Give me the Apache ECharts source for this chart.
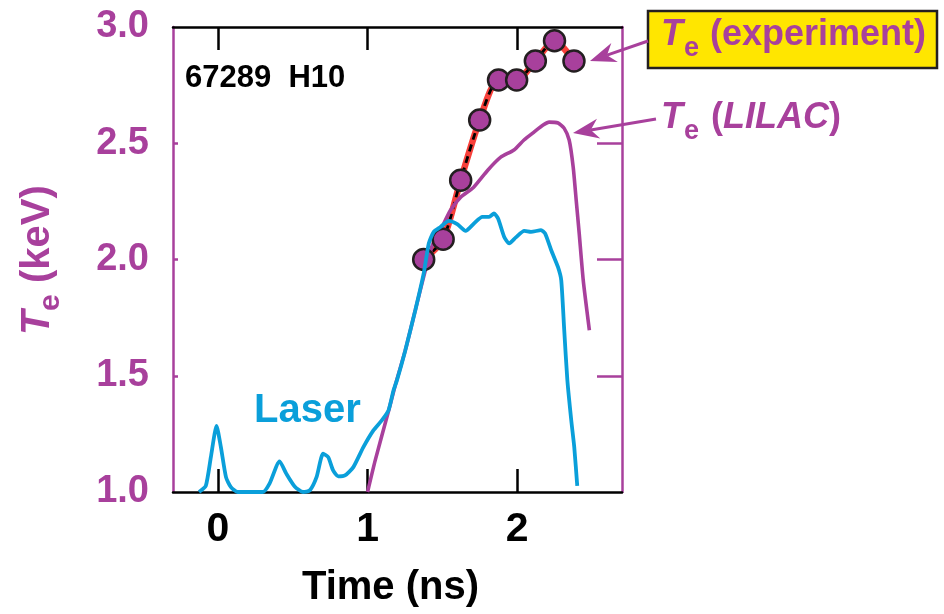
<!DOCTYPE html>
<html>
<head>
<meta charset="utf-8">
<script src="https://cdn.jsdelivr.net/npm/echarts@6/dist/echarts.min.js"></script>
<style>
html,body{margin:0;padding:0;background:#fff;}
#chart{width:944px;height:614px;}
</style>
</head>
<body>
<div id="chart"></div>
<script>
// ---- data ----
var xTicks = [0, 1, 2];
var yInnerTicks = [1.5, 2.0, 2.5];

var laserTime = [-0.126,-0.081,-0.047,-0.009,0.02,0.054,0.087,0.132,0.3,0.345,0.412,0.457,0.513,0.569,0.614,0.659,0.703,0.737,0.77,0.804,0.849,0.905,0.972,1.039,1.095,1.14,1.173,1.196,1.252,1.319,1.375,1.409,1.442,1.487,1.543,1.599,1.655,1.711,1.767,1.812,1.845,1.872,1.913,1.946,1.991,2.047,2.092,2.159,2.186,2.227,2.272,2.294,2.314,2.335,2.361,2.381,2.401];
var laserTe = [1.0,1.026,1.15,1.284,1.193,1.064,1.021,1.0,1.0,1.036,1.132,1.079,1.024,1.0,1.007,1.064,1.165,1.15,1.093,1.067,1.071,1.107,1.193,1.265,1.308,1.351,1.437,1.48,1.609,1.782,1.94,2.069,2.119,2.14,2.166,2.152,2.123,2.155,2.183,2.183,2.198,2.176,2.097,2.069,2.095,2.123,2.119,2.126,2.112,2.04,1.968,1.911,1.696,1.48,1.308,1.193,1.026];

var lilacTime = [1.0,1.051,1.138,1.185,1.252,1.319,1.386,1.433,1.487,1.554,1.622,1.709,1.803,1.89,1.978,2.045,2.112,2.173,2.213,2.273,2.313,2.347,2.374,2.394,2.414,2.441,2.482];
var lilacTe = [1.0,1.136,1.343,1.459,1.609,1.782,1.954,2.062,2.126,2.212,2.268,2.311,2.384,2.44,2.471,2.514,2.548,2.578,2.591,2.587,2.565,2.514,2.397,2.255,2.113,1.911,1.696];

var expTime = [1.375,1.505,1.622,1.749,1.875,1.996,2.121,2.249,2.379];
var expTe = [2.0,2.087,2.341,2.6,2.772,2.772,2.854,2.941,2.854];

// ---- styles ----
var PURPLE = '#A8409C';
var CYAN = '#0A9FDA';
var RED = '#F8403A';
var DARK = '#231F20';
var FONT = '"Liberation Sans", Arial, Helvetica, sans-serif';

function zip(a, b) { return a.map(function (v, i) { return [v, b[i]]; }); }

function arrow(x1, y1, x2, y2) {
  var dx = x2 - x1, dy = y2 - y1, L = Math.sqrt(dx * dx + dy * dy);
  var ux = dx / L, uy = dy / L, px = -uy, py = ux;
  var hl = 26, hw = 10, notch = 18;
  var bx = x2 - ux * hl, by = y2 - uy * hl;
  var nx = x2 - ux * notch, ny = y2 - uy * notch;
  return [
    { type: 'line', shape: { x1: x1, y1: y1, x2: nx, y2: ny }, style: { stroke: PURPLE, lineWidth: 3 }, z: 100 },
    { type: 'polygon', shape: { points: [[x2, y2], [bx + px * hw, by + py * hw], [nx, ny], [bx - px * hw, by - py * hw]] }, style: { fill: PURPLE }, z: 100 }
  ];
}

var chart = echarts.init(document.getElementById('chart'), null, { renderer: 'canvas' });

var graphics = [
  { type: 'text', x: 185, y: 78, z: 100, style: { text: '67289  H10', font: 'bold 31px ' + FONT, fill: '#000', verticalAlign: 'middle', align: 'left' } },
  { type: 'text', x: 254, y: 411, z: 100, style: { text: 'Laser', font: 'bold 40px ' + FONT, fill: CYAN, verticalAlign: 'middle', align: 'left' } },
  { type: 'rect', shape: { x: 648, y: 11, width: 289, height: 57 }, style: { fill: '#FFE600', stroke: DARK, lineWidth: 2.5 }, z: 90 },
  { type: 'text', x: 661, y: 35, z: 100, style: { text: 'T', font: 'italic bold 36px ' + FONT, fill: PURPLE, verticalAlign: 'middle' } },
  { type: 'text', x: 684, y: 49, z: 100, style: { text: 'e', font: 'bold 27px ' + FONT, fill: PURPLE, verticalAlign: 'middle' } },
  { type: 'text', x: 710, y: 35, z: 100, style: { text: '(experiment)', font: 'bold 36px ' + FONT, fill: PURPLE, verticalAlign: 'middle' } },
  { type: 'text', x: 661, y: 118, z: 100, style: { text: 'T', font: 'italic bold 36px ' + FONT, fill: PURPLE, verticalAlign: 'middle' } },
  { type: 'text', x: 684, y: 132, z: 100, style: { text: 'e', font: 'bold 27px ' + FONT, fill: PURPLE, verticalAlign: 'middle' } },
  { type: 'text', x: 711, y: 118, z: 100, style: {
      text: '({i|LILAC})', font: 'bold 36px ' + FONT, fill: PURPLE, verticalAlign: 'middle',
      rich: { i: { font: 'italic bold 36px ' + FONT, fill: PURPLE } } } },
  { type: 'group', x: 38, y: 335, rotation: Math.PI / 2, z: 100, children: [
      { type: 'text', x: 0, y: 0, style: { text: 'T', font: 'italic bold 40px ' + FONT, fill: PURPLE, verticalAlign: 'middle' } },
      { type: 'text', x: 24, y: 13, style: { text: 'e', font: 'bold 30px ' + FONT, fill: PURPLE, verticalAlign: 'middle' } },
      { type: 'text', x: 52, y: 0, style: { text: '(keV)', font: 'bold 40px ' + FONT, fill: PURPLE, verticalAlign: 'middle' } }
  ] }
].concat(arrow(648, 41, 590, 61)).concat(arrow(656, 119, 573, 133));

var option = {
  backgroundColor: '#fff',
  animation: false,
  grid: { left: 173, right: 322, top: 27, bottom: 122, containLabel: false },
  xAxis: [
    {
      type: 'value', position: 'bottom', min: -0.3, max: 2.7,
      axisLine: { show: true, onZero: false, lineStyle: { color: '#000', width: 2.5 } },
      axisTick: { show: true, inside: true, length: 23, customValues: xTicks, lineStyle: { color: '#000', width: 2.5 } },
      axisLabel: { show: true, customValues: xTicks, margin: 17, color: '#000', fontFamily: FONT, fontWeight: 'bold', fontSize: 41 },
      splitLine: { show: false },
      name: 'Time (ns)', nameLocation: 'middle', nameGap: 76,
      nameTextStyle: { color: '#000', fontFamily: FONT, fontWeight: 'bold', fontSize: 40, padding: [0, 14, 0, 0] }
    },
    {
      type: 'value', position: 'top', min: -0.3, max: 2.7,
      axisLine: { show: true, onZero: false, lineStyle: { color: '#000', width: 2.5 } },
      axisTick: { show: true, inside: true, length: 23, customValues: xTicks, lineStyle: { color: '#000', width: 2.5 } },
      axisLabel: { show: false },
      splitLine: { show: false }
    }
  ],
  yAxis: [
    {
      type: 'value', position: 'left', min: 1, max: 3, interval: 0.5,
      axisLine: { show: true, onZero: false, lineStyle: { color: PURPLE, width: 2.5 } },
      axisTick: { show: true, inside: true, length: 5, customValues: yInnerTicks, lineStyle: { color: PURPLE, width: 2.5 } },
      axisLabel: { show: true, margin: 24, color: PURPLE, fontFamily: FONT, fontWeight: 'bold', fontSize: 38,
        formatter: function (v) { return v.toFixed(1); } },
      splitLine: { show: false }
    },
    {
      type: 'value', position: 'right', min: 1, max: 3, interval: 0.5,
      axisLine: { show: true, onZero: false, lineStyle: { color: PURPLE, width: 2.5 } },
      axisTick: { show: true, inside: true, length: 25, customValues: yInnerTicks, lineStyle: { color: PURPLE, width: 2.5 } },
      axisLabel: { show: false },
      splitLine: { show: false }
    }
  ],
  series: [
    {
      name: 'Te experiment fit', type: 'line', xAxisIndex: 0, yAxisIndex: 0,
      data: zip(expTime, expTe), smooth: 0.25, showSymbol: false, silent: true,
      lineStyle: { color: RED, width: 6.5 }, z: 2
    },
    {
      name: 'Te experiment dashed', type: 'line', xAxisIndex: 0, yAxisIndex: 0,
      data: zip(expTime, expTe), smooth: 0.25, showSymbol: false, silent: true,
      lineStyle: { color: '#000', width: 2.8, type: [7, 5] }, z: 3
    },
    {
      name: 'Te (LILAC)', type: 'line', xAxisIndex: 0, yAxisIndex: 0,
      data: zip(lilacTime, lilacTe), showSymbol: false, smooth: 0.2,
      lineStyle: { color: PURPLE, width: 3.6 }, z: 4
    },
    {
      name: 'Te (experiment)', type: 'scatter', xAxisIndex: 0, yAxisIndex: 0,
      data: zip(expTime, expTe), symbol: 'circle', symbolSize: 21,
      itemStyle: { color: PURPLE, borderColor: DARK, borderWidth: 2.5, opacity: 1 }, z: 5
    },
    {
      name: 'Laser', type: 'line', xAxisIndex: 0, yAxisIndex: 0,
      data: zip(laserTime, laserTe), showSymbol: false, smooth: 0.2,
      lineStyle: { color: CYAN, width: 3.8 }, z: 6
    }
  ],
  graphic: graphics
};

chart.setOption(option);
</script>
</body>
</html>
